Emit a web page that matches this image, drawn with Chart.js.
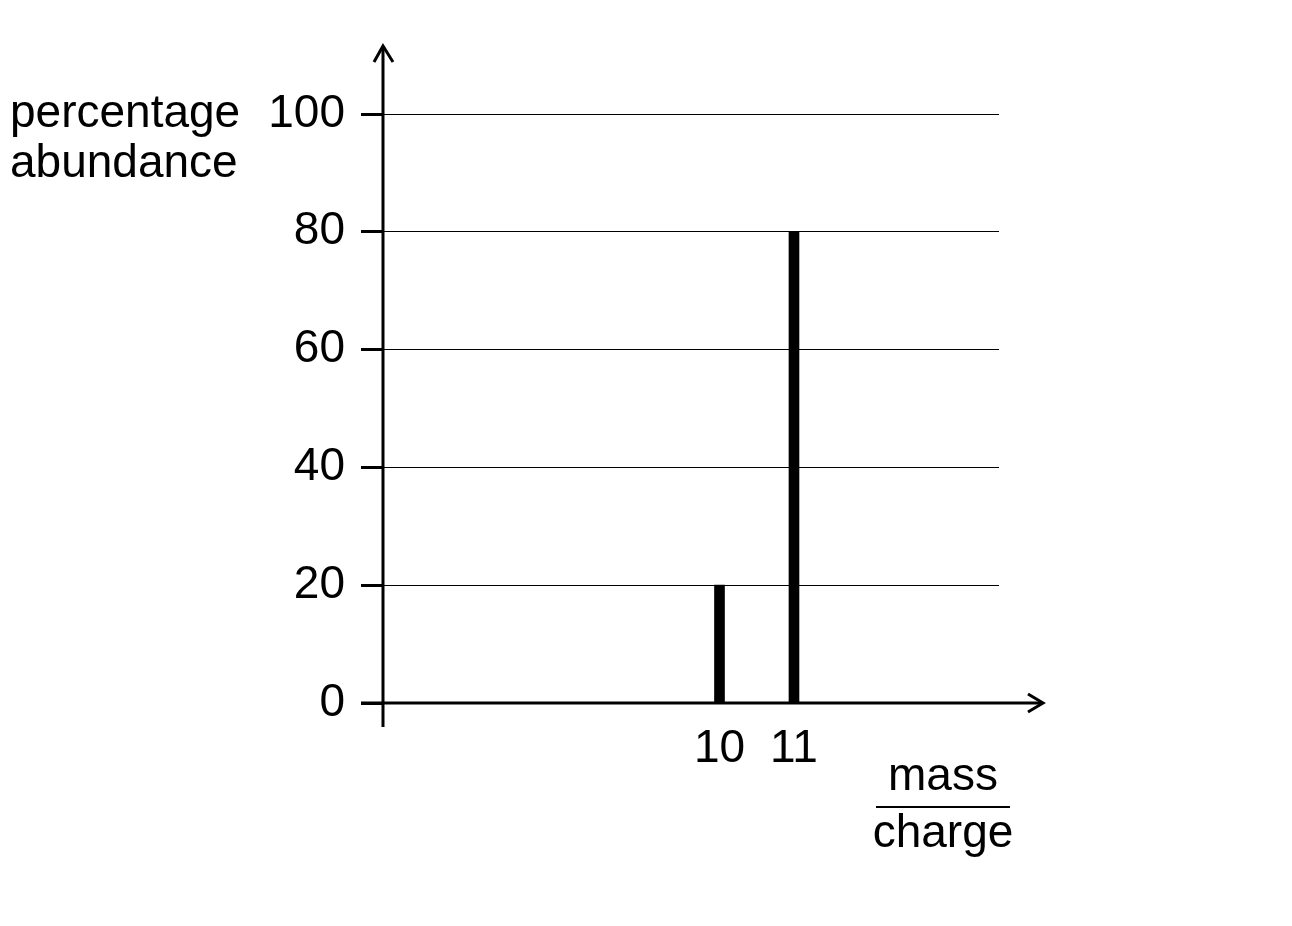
<!DOCTYPE html>
<html>
<head>
<meta charset="utf-8">
<script src="https://cdn.jsdelivr.net/npm/chart.js@4.4.1/dist/chart.umd.min.js"></script>
<style>
    html, body { margin: 0; padding: 0; background: #fff; }
    #contenedor { width: 1292px; height: 926px; position: relative; }
</style>
</head>
<body>
<div id="contenedor"><canvas id="grafica"></canvas></div>
<script>
const masaCarga = [10, 11];
const abundancia = [20, 80];
const ticksY = [0, 20, 40, 60, 80, 100];
const ticksX = [10, 11];

// limites del eje x (el eje empieza lejos de los picos)
const xMin = 5.483;
const xMax = 13.752;

const fuente = '"Liberation Sans", Arial, sans-serif';
const tamFuente = 46;

// ejes con flechas y titulos, dibujados encima
const ejesPlugin = {
    id: 'ejes',
    afterDraw(chart) {
        const ctx = chart.ctx;
        const x = chart.scales.x;
        const y = chart.scales.y;
        const x0 = x.getPixelForValue(xMin);
        const y0 = y.getPixelForValue(0);

        ctx.save();
        ctx.strokeStyle = '#000';
        ctx.lineWidth = 3;
        ctx.lineCap = 'butt';

        // eje y con flecha
        ctx.beginPath();
        ctx.moveTo(x0, y0 + 24);
        ctx.lineTo(x0, 47);
        ctx.stroke();
        ctx.beginPath();
        ctx.moveTo(x0 - 9, 62);
        ctx.lineTo(x0, 46);
        ctx.lineTo(x0 + 10, 62);
        ctx.stroke();

        // eje x con flecha
        ctx.beginPath();
        ctx.moveTo(x0 - 22, y0);
        ctx.lineTo(1042, y0);
        ctx.stroke();
        ctx.beginPath();
        ctx.moveTo(1028, y0 - 9);
        ctx.lineTo(1043, y0);
        ctx.lineTo(1028, y0 + 9);
        ctx.stroke();

        // titulos
        ctx.fillStyle = '#000';
        ctx.font = tamFuente + 'px ' + fuente;
        ctx.textBaseline = 'alphabetic';
        ctx.textAlign = 'left';
        ctx.fillText('percentage', 10, 127);
        ctx.fillText('abundance', 10, 177);

        ctx.textAlign = 'center';
        ctx.fillText('mass', 943, 790);
        ctx.fillText('charge', 943, 847);
        ctx.lineWidth = 2;
        ctx.beginPath();
        ctx.moveTo(876, 807);
        ctx.lineTo(1010, 807);
        ctx.stroke();
        ctx.restore();
    }
};

const ctx = document.getElementById('grafica').getContext('2d');
new Chart(ctx, {
    type: 'bar',
    data: {
        datasets: [{
            data: masaCarga.map((m, i) => ({ x: m, y: abundancia[i] })),
            backgroundColor: '#000',
            borderWidth: 0,
            barThickness: 10
        }]
    },
    options: {
        responsive: true,
        maintainAspectRatio: false,
        devicePixelRatio: 1,
        animation: false,
        layout: {
            padding: { left: 0, right: 293, top: 114, bottom: 0 }
        },
        plugins: {
            legend: { display: false },
            tooltip: { enabled: false }
        },
        scales: {
            x: {
                type: 'linear',
                min: xMin,
                max: xMax,
                offset: false,
                afterBuildTicks: scale => {
                    scale.ticks = ticksX.map(v => ({ value: v }));
                },
                afterFit: scale => { scale.height = 223; },
                grid: { display: false, drawTicks: false },
                border: { display: false },
                ticks: {
                    color: '#000',
                    font: { family: fuente, size: tamFuente },
                    padding: 19,
                    maxRotation: 0,
                    autoSkip: false
                }
            },
            y: {
                min: 0,
                max: 100,
                afterBuildTicks: scale => {
                    scale.ticks = ticksY.map(v => ({ value: v }));
                },
                afterFit: scale => { scale.width = 383; },
                grid: {
                    color: '#000',
                    lineWidth: 1,
                    tickLength: 22,
                    tickWidth: 3,
                    tickColor: '#000'
                },
                border: { display: false },
                ticks: {
                    color: '#000',
                    font: { family: fuente, size: tamFuente },
                    padding: 16
                }
            }
        }
    },
    plugins: [ejesPlugin]
});
</script>
</body>
</html>
